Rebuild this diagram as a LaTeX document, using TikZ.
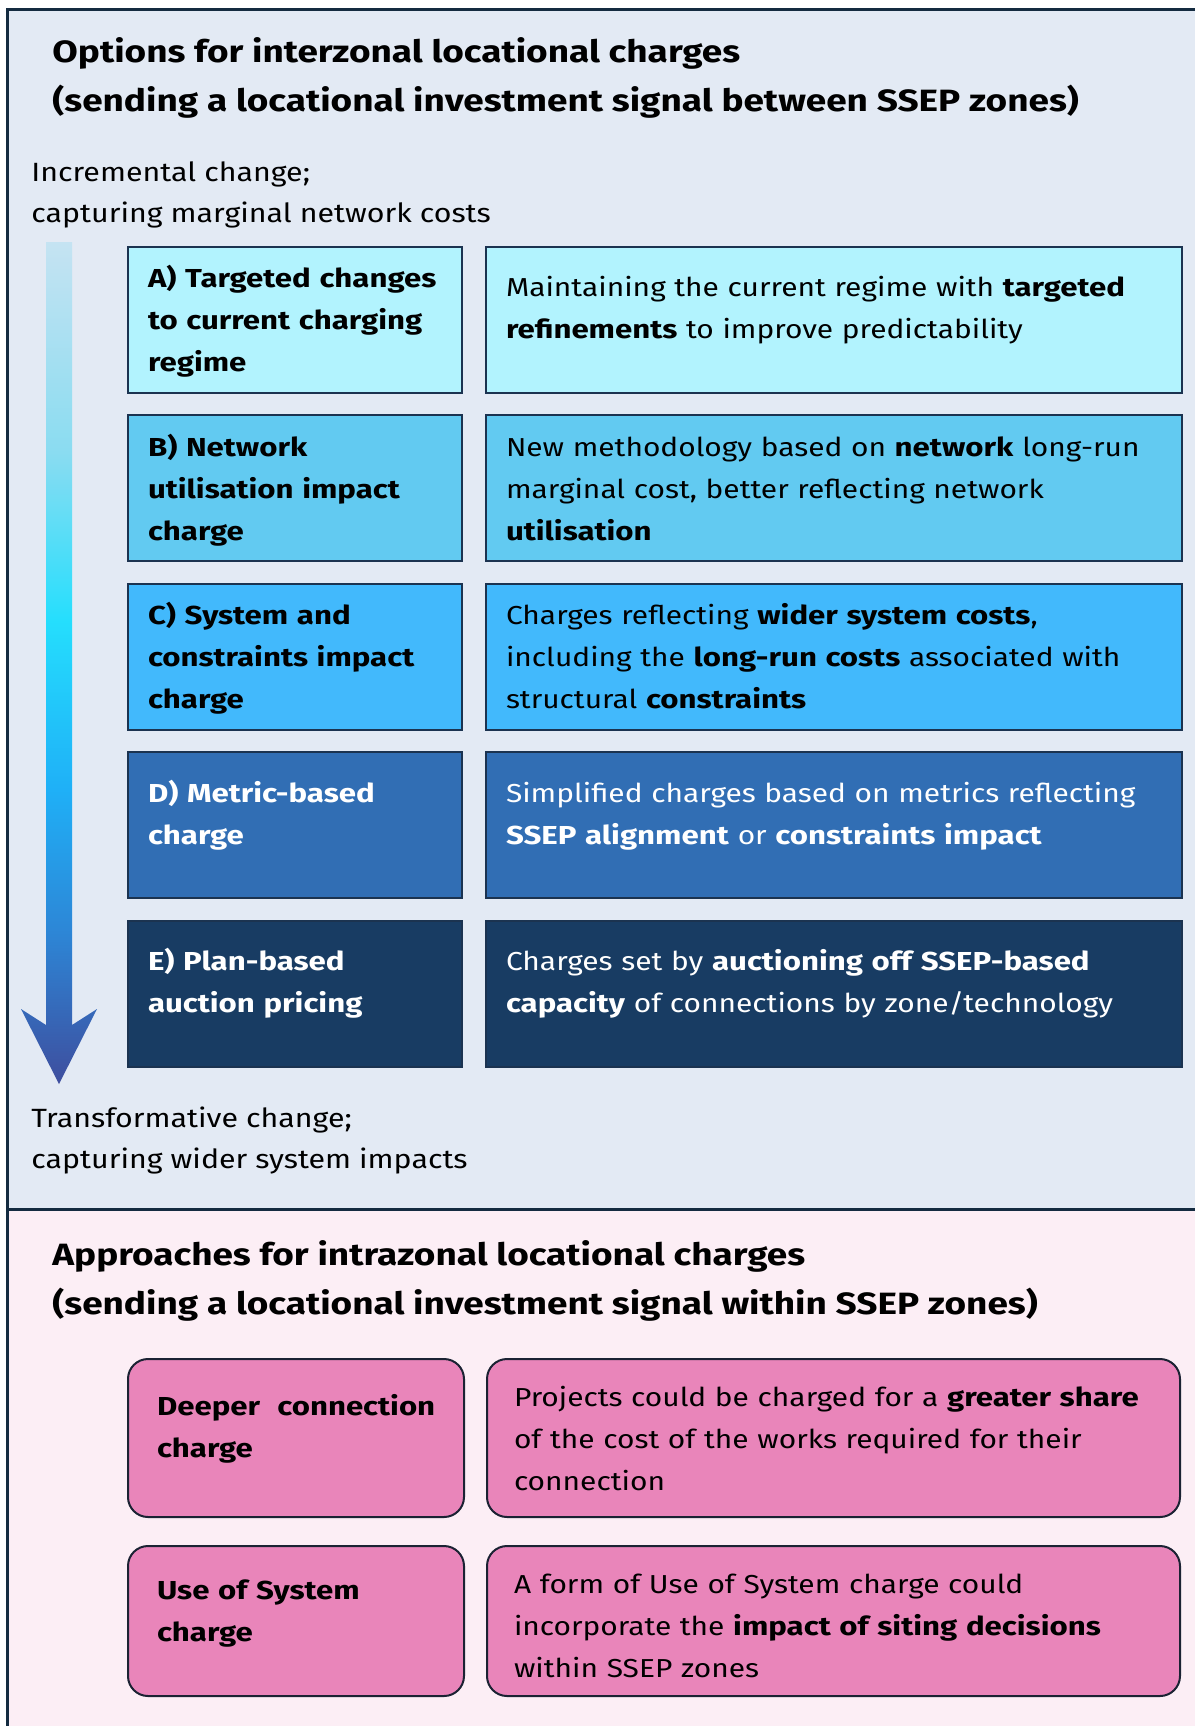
\documentclass[tikz,border=0pt]{standalone}
\usepackage{fontspec}
\setmainfont{Fira Sans}[FakeStretch=1.15, BoldFeatures={FakeStretch=1.2}]
\usetikzlibrary{positioning}

\definecolor{panelblue}{HTML}{E3EAF4}
\definecolor{panelpink}{HTML}{FCEEF5}
\definecolor{frameline}{HTML}{142B40}
\definecolor{edge}{HTML}{1B3350}
\definecolor{boxA}{HTML}{B2F3FE}
\definecolor{boxB}{HTML}{62CAF1}
\definecolor{boxC}{HTML}{42B9FC}
\definecolor{boxD}{HTML}{316EB4}
\definecolor{boxE}{HTML}{183C63}
\definecolor{pinkfill}{HTML}{E985BA}
\definecolor{pinkedge}{HTML}{1B2233}
\definecolor{fadeTop}{HTML}{C5E3F2}
\definecolor{fadeA}{HTML}{8ADCF1}
\definecolor{fadeB}{HTML}{25DEFD}
\definecolor{fadeC}{HTML}{1FB0F7}
\definecolor{fadeD}{HTML}{2D86D6}
\definecolor{fadeE}{HTML}{3E4E9E}

\newcommand{\boxfont}{\fontsize{13}{21}\selectfont}
\newcommand{\headfont}{\fontsize{15.4}{24.5}\selectfont\bfseries}
\newcommand{\sidefont}{\fontsize{13.2}{20.5}\selectfont}

% light at the top, dark blue at the tip
\pgfdeclareverticalshading{arrowfade}{100bp}{color(0bp)=(fadeE); color(25bp)=(fadeE);
  color(34bp)=(fadeD); color(42.5bp)=(fadeC); color(52.5bp)=(fadeB);
  color(62.5bp)=(fadeA); color(75bp)=(fadeTop); color(100bp)=(fadeTop)}

\begin{document}
\begin{tikzpicture}[x=0.5pt, y=-0.5pt, node distance=84.3pt,
    frame/.style={draw=frameline, line width=1.5pt},
    headtext/.style={anchor=north west, inner sep=0pt, align=left, font=\headfont},
    sidetext/.style={anchor=north west, inner sep=0pt, align=left, font=\sidefont},
    optbox/.style={draw=edge, line width=1pt, rectangle, inner xsep=10pt, inner ysep=0pt,
        align=left, text height=25pt, text depth=48pt},
    tallrow/.style={text height=20.5pt, text depth=52.5pt},
    namebox/.style={optbox, text width=147pt, font=\boxfont\bfseries},
    descbox/.style={optbox, text width=328pt, font=\boxfont},
    pinkbox/.style={draw=pinkedge, fill=pinkfill, line width=1pt, rounded corners=10pt,
        inner xsep=14.5pt, inner ysep=0pt, align=left, font=\boxfont}]

    \useasboundingbox (0,0) rectangle (1195,1726);

    % Panels
    \fill[panelblue] (7,9) rectangle (1195,1209);
    \fill[panelpink] (7,1209) rectangle (1195,1726);
    \draw[frame] (1195,9) -- (7,9) -- (7,1726);
    \draw[frame] (7,1209) -- (1195,1209);

    % Gradient arrow
    \shade[shading=arrowfade] (46,242) -- (72,242) -- (72,1025) -- (97,1009) -- (59,1084)
        -- (21,1009) -- (46,1025) -- cycle;

    % Headings
    \node (head1) [headtext] at (52,37) {Options for interzonal locational charges\\(sending a locational investment signal between SSEP zones)};
    \node (top) [sidetext] at (31,161) {Incremental change;\\capturing marginal network costs};
    \node (bottom) [sidetext] at (31,1106) {Transformative change;\\capturing wider system impacts};
    \node (head2) [headtext] at (52,1240) {Approaches for intrazonal locational charges\\(sending a locational investment signal within SSEP zones)};

    % Options A-E
    \node (a) [namebox, tallrow, fill=boxA] at (295,319.5) {A) Targeted changes\\to current charging\\regime};
    \node (b) [namebox, tallrow, fill=boxB, below of=a] {B) Network\\utilisation impact\\charge};
    \node (c) [namebox, tallrow, fill=boxC, below of=b] {C) System and\\constraints impact\\charge};
    \node (d) [namebox, fill=boxD, text=white, below of=c] {D) Metric-based\\charge};
    \node (e) [namebox, fill=boxE, text=white, below of=d] {E) Plan-based\\auction pricing};

    \node (adesc) [descbox, fill=boxA, right of=a, node distance=269.5pt] {Maintaining the current regime with \textbf{targeted}\\\textbf{refinements} to improve predictability};
    \node (bdesc) [descbox, tallrow, fill=boxB, right of=b, node distance=269.5pt] {New methodology based on \textbf{network} long-run\\marginal cost, better reflecting network\\\textbf{utilisation}};
    \node (cdesc) [descbox, tallrow, fill=boxC, right of=c, node distance=269.5pt] {Charges reflecting \textbf{wider system costs},\\including the \textbf{long-run costs} associated with\\structural \textbf{constraints}};
    \node (ddesc) [descbox, fill=boxD, text=white, right of=d, node distance=269.5pt] {Simplified charges based on metrics reflecting\\\textbf{SSEP alignment} or \textbf{constraints impact}};
    \node (edesc) [descbox, fill=boxE, text=white, right of=e, node distance=269.5pt] {Charges set by \textbf{auctioning off SSEP-based}\\\textbf{capacity} of connections by zone/technology};

    % Intrazonal approaches
    \node (deep) [pinkbox, text width=139pt, font=\boxfont\bfseries, text height=28pt, text depth=51pt] at (296,1438) {\mbox{Deeper\ \ connection}\\charge};
    \node (uos) [pinkbox, text width=139pt, font=\boxfont\bfseries, text height=26.5pt, text depth=48.5pt, below of=deep, node distance=91.5pt] {Use of System\\charge};
    \node (deepdesc) [pinkbox, inner xsep=13.5pt, text width=319.5pt, text height=23.5pt, text depth=55.5pt, right of=deep, node distance=268.75pt] {Projects could be charged for a \textbf{greater share}\\of the cost of the works required for their\\connection};
    \node (uosdesc) [pinkbox, inner xsep=13.5pt, text width=319.5pt, text height=23.5pt, text depth=51.5pt, right of=uos, node distance=268.75pt] {A form of Use of System charge could\\incorporate the \textbf{impact of siting decisions}\\within SSEP zones};

\end{tikzpicture}
\end{document}
